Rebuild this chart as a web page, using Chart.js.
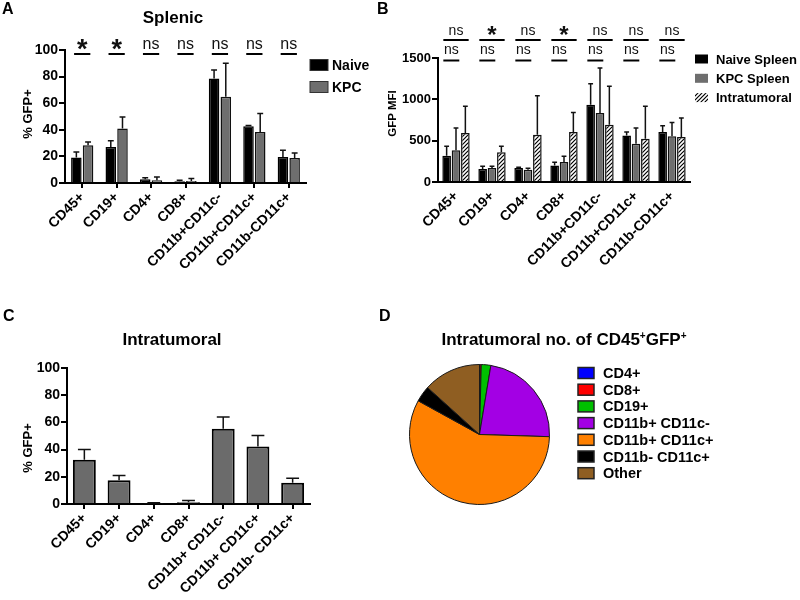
<!DOCTYPE html>
<html>
<head>
<meta charset="utf-8">
<title>GFP+ immune cells</title>
<script src="https://cdn.jsdelivr.net/npm/chart.js@4.4.1/dist/chart.umd.min.js"></script>
<style>
  body { margin: 0; background: #fff; font-family: "Liberation Sans", Arial, sans-serif; }
  #fig { position: relative; width: 800px; height: 600px; overflow: hidden; }
  #fig canvas { position: absolute; }
  .txt { position: absolute; font-weight: bold; line-height: 1; white-space: nowrap; color: #000; }
  .panel { font-size: 16px; }
  .ttl { font-size: 17px; transform: translateX(-50%); }
  .ttl sup { font-size: 10px; line-height: 0; vertical-align: 6px; }
</style>
</head>
<body>
<div id="fig">
  <canvas id="chartA" width="400" height="300" style="left:0;top:0"></canvas>
  <canvas id="chartB" width="425" height="300" style="left:375px;top:0"></canvas>
  <canvas id="chartC" width="400" height="300" style="left:0;top:300px"></canvas>
  <canvas id="chartD" width="400" height="300" style="left:400px;top:300px"></canvas>
  <div class="txt panel" style="left:2px;top:1px">A</div>
  <div class="txt panel" style="left:377px;top:1px">B</div>
  <div class="txt panel" style="left:3px;top:308px">C</div>
  <div class="txt panel" style="left:379px;top:308px">D</div>
  <div class="txt ttl" style="left:173px;top:9px">Splenic</div>
  <div class="txt ttl" style="left:172px;top:331px">Intratumoral</div>
  <div class="txt ttl" style="left:564px;top:331px">Intratumoral no. of CD45<sup>+</sup>GFP<sup>+</sup></div>
</div>
<script>
// A - splenic % GFP+
const splenicCats = ['CD45+', 'CD19+', 'CD4+', 'CD8+', 'CD11b+CD11c-', 'CD11b+CD11c+', 'CD11b-CD11c+'];
const splenicNaive = [19.1, 27.1, 2.8, 1.3, 78.6, 42.7, 19.6];
const splenicNaiveSd = [4.3, 4.6, 1.2, 0.7, 6.4, 0.5, 5.0];
const splenicKpc = [28.4, 41.0, 2.0, 1.5, 64.8, 38.4, 18.8];
const splenicKpcSd = [2.5, 8.7, 2.5, 1.8, 25.2, 13.9, 3.8];
const splenicSig = ['*', '*', 'ns', 'ns', 'ns', 'ns', 'ns'];
const pctTicks = [0, 20, 40, 60, 80, 100];

// B - GFP MFI
const mfiNaive = [318, 157, 169, 201, 935, 564, 604];
const mfiNaiveSd = [113, 33, 8, 37, 254, 40, 77];
const mfiKpc = [383, 169, 149, 242, 834, 463, 552];
const mfiKpcSd = [270, 21, 16, 68, 544, 190, 169];
const mfiTumor = [592, 359, 572, 604, 693, 524, 544];
const mfiTumorSd = [323, 72, 472, 238, 464, 391, 230];
const mfiSigTumor = ['ns', '*', 'ns', '*', 'ns', 'ns', 'ns'];
const mfiSigKpc = ['ns', 'ns', 'ns', 'ns', 'ns', 'ns', 'ns'];
const mfiTicks = [0, 500, 1000, 1500];

// C - intratumoral % GFP+
const tumorCats = ['CD45+', 'CD19+', 'CD4+', 'CD8+', 'CD11b+ CD11c-', 'CD11b+ CD11c+', 'CD11b- CD11c+'];
const tumorPct = [32.5, 17.4, 0.5, 1.2, 55.3, 42.2, 15.6];
const tumorPctSd = [7.5, 3.6, 0.5, 1.3, 8.7, 8.2, 3.3];

// D - share of CD45+GFP+ cells in tumour
const pieLabels = ['CD4+', 'CD8+', 'CD19+', 'CD11b+ CD11c-', 'CD11b+ CD11c+', 'CD11b- CD11c+', 'Other'];
const pieShares = [0.1, 0.3, 2.2, 22.9, 57.5, 3.7, 13.3];

const FAMILY = '"Liberation Sans", Arial, sans-serif';
Chart.defaults.font.family = FAMILY;
Chart.defaults.color = '#000';

// upward SD whiskers
const errorBars = {
    id: 'errorBars',
    afterDatasetsDraw(chart) {
        const { ctx } = chart;
        const y = chart.scales.y;
        ctx.save();
        ctx.strokeStyle = '#111';
        ctx.lineWidth = 1.5;
        chart.data.datasets.forEach((ds, i) => {
            if (!ds.errors) return;
            chart.getDatasetMeta(i).data.forEach((bar, j) => {
                const top = y.getPixelForValue(ds.data[j] + ds.errors[j]);
                const half = bar.width * 0.28;
                ctx.beginPath();
                ctx.moveTo(bar.x, bar.y);
                ctx.lineTo(bar.x, top);
                ctx.moveTo(bar.x - half, top);
                ctx.lineTo(bar.x + half, top);
                ctx.stroke();
            });
        });
        ctx.restore();
    }
};

// centre a text on a visual y position
function textAt(ctx, txt, x, cy) {
    const m = ctx.measureText(txt);
    ctx.fillText(txt, x, cy + (m.actualBoundingBoxAscent - m.actualBoundingBoxDescent) / 2);
}

function sigMarks(rows) {
    return {
        id: 'sigMarks',
        afterDraw(chart) {
            const { ctx } = chart;
            ctx.save();
            ctx.textAlign = 'center';
            ctx.textBaseline = 'alphabetic';
            rows.forEach(row => {
                const first = chart.getDatasetMeta(0).data;
                const last = chart.getDatasetMeta(row.lastSet).data;
                row.marks.forEach((mark, i) => {
                    const x0 = first[i].x - first[i].width / 2 + row.inset;
                    const x1 = last[i].x + last[i].width / 2 - row.inset;
                    ctx.strokeStyle = '#000';
                    ctx.lineWidth = 2;
                    ctx.beginPath();
                    ctx.moveTo(x0, row.lineY);
                    ctx.lineTo(x1, row.lineY);
                    ctx.stroke();
                    ctx.fillStyle = '#111';
                    ctx.font = mark === '*' ? `bold ${row.starSize}px ${FAMILY}` : `${row.nsSize}px ${FAMILY}`;
                    textAt(ctx, mark, (x0 + x1) / 2, row.textY);
                });
            });
            ctx.restore();
        }
    };
}

function boxLegend(cfg) {
    return {
        id: 'boxLegend',
        afterDraw(chart) {
            const { ctx } = chart;
            const items = chart.config.type === 'pie'
                ? chart.data.labels.map((t, i) => ({ text: t, fill: chart.data.datasets[0].backgroundColor[i] }))
                : chart.data.datasets.map(d => ({ text: d.label, fill: d.backgroundColor }));
            ctx.save();
            ctx.font = cfg.font;
            ctx.textAlign = 'left';
            ctx.textBaseline = 'middle';
            items.forEach((it, i) => {
                const cy = cfg.y + i * cfg.gap;
                ctx.fillStyle = it.fill;
                ctx.fillRect(cfg.x, cy - cfg.h / 2, cfg.w, cfg.h);
                if (cfg.stroke) {
                    ctx.strokeStyle = cfg.stroke;
                    ctx.lineWidth = cfg.lineWidth;
                    ctx.strokeRect(cfg.x, cy - cfg.h / 2, cfg.w, cfg.h);
                }
                ctx.fillStyle = '#000';
                ctx.fillText(it.text, cfg.textX, cy + 1);
            });
            ctx.restore();
        }
    };
}

function yTitle(text, x, y, size) {
    return {
        id: 'yTitle',
        afterDraw(chart) {
            const { ctx } = chart;
            ctx.save();
            ctx.translate(x, y);
            ctx.rotate(-Math.PI / 2);
            ctx.font = `bold ${size}px ${FAMILY}`;
            ctx.textAlign = 'center';
            ctx.textBaseline = 'middle';
            ctx.fillStyle = '#000';
            ctx.fillText(text, 0, 0);
            ctx.restore();
        }
    };
}

function yAxis(ticks, width, fontSize) {
    return {
        min: ticks[0],
        max: ticks[ticks.length - 1],
        afterBuildTicks: s => { s.ticks = ticks.map(v => ({ value: v })); },
        afterFit: s => { s.width = width; },
        border: { display: true, color: '#000', width: 2 },
        grid: { drawOnChartArea: false, color: '#000', lineWidth: 2, tickLength: 6 },
        ticks: { color: '#000', padding: 1, font: { size: fontSize, weight: 'bold' }, callback: v => String(v) }
    };
}

function xAxis(height, showTicks) {
    return {
        afterFit: s => { s.height = height; },
        border: { display: true, color: '#000', width: 2 },
        grid: {
            drawOnChartArea: false, offset: false, color: '#000', lineWidth: 2, tickLength: 5,
            tickColor: showTicks ? '#000' : 'rgba(0,0,0,0)'
        },
        ticks: { color: '#000', minRotation: 45, maxRotation: 45, autoSkip: false, padding: 1, font: { size: 14, weight: 'bold' } }
    };
}

function hatch() {
    const c = document.createElement('canvas');
    c.width = c.height = 4;
    const g = c.getContext('2d');
    g.fillStyle = '#fff';
    g.fillRect(0, 0, 4, 4);
    g.strokeStyle = '#000';
    g.lineWidth = 1.2;
    g.beginPath();
    g.moveTo(0, 4); g.lineTo(4, 0);
    g.moveTo(-1, 1); g.lineTo(1, -1);
    g.moveTo(3, 5); g.lineTo(5, 3);
    g.stroke();
    return g.createPattern(c, 'repeat');
}

const base = { responsive: false, animation: false, events: [] };
const noLegend = { legend: { display: false }, tooltip: { enabled: false } };

// A
new Chart(document.getElementById('chartA'), {
    type: 'bar',
    data: {
        labels: splenicCats,
        datasets: [
            { label: 'Naive', data: splenicNaive, errors: splenicNaiveSd, backgroundColor: '#000', borderColor: '#000', borderWidth: 1.5, categoryPercentage: 0.68, barPercentage: 0.9 },
            { label: 'KPC', data: splenicKpc, errors: splenicKpcSd, backgroundColor: '#6e6e6e', borderColor: '#111', borderWidth: 1.5, categoryPercentage: 0.68, barPercentage: 0.9 }
        ]
    },
    options: {
        ...base,
        layout: { padding: { left: 0, top: 50, right: 94, bottom: 0 } },
        scales: { x: xAxis(117, true), y: yAxis(pctTicks, 65, 14) },
        plugins: noLegend
    },
    plugins: [
        errorBars,
        sigMarks([{ marks: splenicSig, lastSet: 1, inset: 3, lineY: 54, textY: 44, starSize: 27, nsSize: 16 }]),
        boxLegend({ x: 310, y: 65, gap: 22, w: 18, h: 11, textX: 332, font: `bold 14px ${FAMILY}`, stroke: '#333', lineWidth: 1 }),
        yTitle('% GFP+', 28.5, 114, 13)
    ]
});

// B
new Chart(document.getElementById('chartB'), {
    type: 'bar',
    data: {
        labels: splenicCats,
        datasets: [
            { label: 'Naive Spleen', data: mfiNaive, errors: mfiNaiveSd, backgroundColor: '#000', borderColor: '#000', borderWidth: 1.5, categoryPercentage: 0.78, barPercentage: 0.92 },
            { label: 'KPC Spleen', data: mfiKpc, errors: mfiKpcSd, backgroundColor: '#6e6e6e', borderColor: '#111', borderWidth: 1.5, categoryPercentage: 0.78, barPercentage: 0.92 },
            { label: 'Intratumoral', data: mfiTumor, errors: mfiTumorSd, backgroundColor: hatch(), borderColor: '#111', borderWidth: 1.5, categoryPercentage: 0.78, barPercentage: 0.92 }
        ]
    },
    options: {
        ...base,
        layout: { padding: { left: 0, top: 58, right: 110, bottom: 0 } },
        scales: { x: xAxis(118, false), y: yAxis(mfiTicks, 63, 13) },
        plugins: noLegend
    },
    plugins: [
        errorBars,
        sigMarks([
            { marks: mfiSigTumor, lastSet: 2, inset: 1, lineY: 40, textY: 30.5, starSize: 24, nsSize: 14 },
            { marks: mfiSigKpc, lastSet: 1, inset: 1, lineY: 60.5, textY: 50, starSize: 24, nsSize: 14 }
        ]),
        boxLegend({ x: 320, y: 59, gap: 19.3, w: 13, h: 9, textX: 341, font: `bold 13px ${FAMILY}` }),
        yTitle('GFP MFI', 17.5, 113.5, 11.5)
    ]
});

// C
new Chart(document.getElementById('chartC'), {
    type: 'bar',
    data: {
        labels: tumorCats,
        datasets: [
            { label: 'Intratumoral', data: tumorPct, errors: tumorPctSd, backgroundColor: '#6b6b6b', borderColor: '#000', borderWidth: 2, categoryPercentage: 0.66, barPercentage: 1 }
        ]
    },
    options: {
        ...base,
        layout: { padding: { left: 0, top: 68, right: 90, bottom: 0 } },
        scales: { x: xAxis(96, true), y: yAxis(pctTicks, 67, 14) },
        plugins: noLegend
    },
    plugins: [errorBars, yTitle('% GFP+', 28, 148, 13)]
});

// D
new Chart(document.getElementById('chartD'), {
    type: 'pie',
    data: {
        labels: pieLabels,
        datasets: [{
            data: pieShares,
            backgroundColor: ['#0000ff', '#ff0000', '#00c000', '#a300e4', '#ff8000', '#000000', '#8f5e22'],
            borderColor: '#1a1a1a',
            borderWidth: 1
        }]
    },
    options: {
        ...base,
        layout: { padding: { left: 9, top: 64, right: 250, bottom: 95 } },
        plugins: noLegend
    },
    plugins: [boxLegend({ x: 178, y: 73, gap: 16.7, w: 16, h: 11, textX: 203, font: `bold 14.5px ${FAMILY}`, stroke: '#222', lineWidth: 1.5 })]
});
</script>
</body>
</html>
